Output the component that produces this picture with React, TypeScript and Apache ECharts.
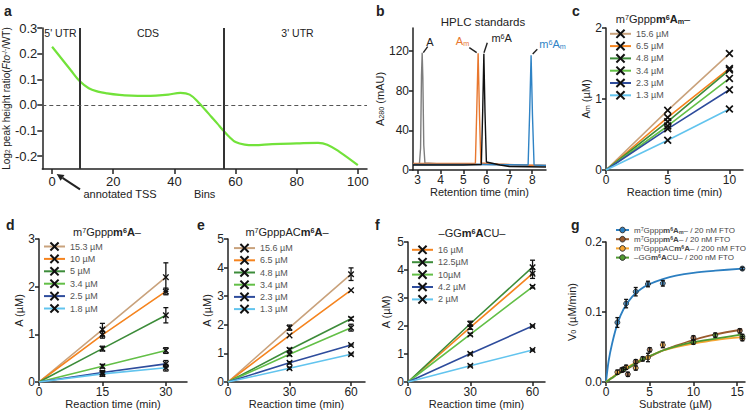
import React, { useEffect, useRef } from "react";
import * as echarts from "echarts";

const FONT = "'Liberation Sans', Arial, Helvetica, sans-serif";
const INK = "#222";
const X_SYMBOL = "path://M0,1.5L1.5,0L5,3.5L8.5,0L10,1.5L6.5,5L10,8.5L8.5,10L5,6.5L1.5,10L0,8.5L3.5,5Z";

// ---------- panel a ----------
const binsA = [0, 3, 6, 9, 12, 15, 18, 22, 26, 30, 34, 38, 42, 45, 48, 50, 52, 54, 56, 58, 60, 63, 66, 72, 80, 87, 90, 94, 100];
const ratioA = [0.227, 0.182, 0.137, 0.093, 0.065, 0.052, 0.045, 0.039, 0.036, 0.035, 0.036, 0.04, 0.047, 0.04, 0.008, -0.018, -0.045, -0.072, -0.1, -0.125, -0.145, -0.155, -0.157, -0.153, -0.15, -0.148, -0.155, -0.183, -0.235];
const regionEdgesA = [9.2, 56.2];
const regionLabelsA = ["5' UTR", "CDS", "3' UTR"];
const xTicksA = [0, 20, 40, 60, 80, 100];
const yTicksA = [-0.2, -0.1, 0, 0.1, 0.2, 0.3];

// ---------- panel b ----------
const hplcTimes = [
  [2.8, 3.08, 3.13, 3.17, 3.2, 3.23, 3.27, 3.32, 4.0, 5.0, 6.0, 7.0, 8.0, 8.6],
  [2.8, 5.0, 5.52, 5.58, 5.64, 5.7, 5.76, 6.5, 7.5, 8.6],
  [2.8, 6.0, 7.82, 7.89, 7.95, 8.01, 8.08, 8.6],
  [2.8, 5.0, 5.78, 5.84, 5.89, 5.94, 6.0, 6.6, 7.0, 8.6],
];
const hplcSignals = [
  [6, 6, 22, 95, 118, 92, 25, 7, 6, 6, 5.5, 5, 4.5, 4.5],
  [6.5, 6.5, 6.5, 60, 117.5, 55, 7, 6, 5, 4.5],
  [5.5, 5.5, 5, 60, 115.5, 55, 5, 4.5],
  [5, 5, 5.5, 60, 117, 58, 8, 5, 3.5, 3],
];
const hplcColors = ["#7d7d7d", "#E8772E", "#2F83C5", "#111111"];
const xTicksB = [3, 4, 5, 6, 7, 8];
const yTicksB = [0, 40, 80, 120];

// ---------- shared colours ----------
const TAN = "#C9A27C";
const ORANGE = "#F5841F";
const DKGREEN = "#3D8C3A";
const LTGREEN = "#63BF47";
const DKBLUE = "#2E4C9C";
const LTBLUE = "#62C4EE";

// ---------- panel c ----------
const timeC = [0, 5, 10];
const concC = ["15.6 µM", "6.5 µM", "4.8 µM", "3.4 µM", "2.3 µM", "1.3 µM"];
const amC = [
  [0, 0.84, 1.64],
  [0, 0.74, 1.43],
  [0, 0.68, 1.41],
  [0, 0.62, 1.29],
  [0, 0.58, 1.13],
  [0, 0.42, 0.86],
];
const colorsC = [TAN, ORANGE, DKGREEN, LTGREEN, DKBLUE, LTBLUE];

// ---------- panel d ----------
const timeD = [0, 15, 30];
const concD = ["15.3 µM", "10 µM", "5 µM", "3.4 µM", "2.5 µM", "1.8 µM"];
const aD = [
  [0, 1.1, 2.2],
  [0, 0.99, 1.9],
  [0, 0.7, 1.4],
  [0, 0.33, 0.66],
  [0, 0.2, 0.38],
  [0, 0.17, 0.3],
];
const errD = [
  [0, 0.13, 0.3],
  [0, 0.07, 0.07],
  [0, 0.05, 0.16],
  [0, 0.04, 0.06],
  [0, 0.04, 0.07],
  [0, 0.05, 0.07],
];
const colorsD = [TAN, ORANGE, DKGREEN, LTGREEN, DKBLUE, LTBLUE];

// ---------- panel e ----------
const timeE = [0, 30, 60];
const concE = ["15.6 µM", "6.5 µM", "4.8 µM", "3.4 µM", "2.3 µM", "1.3 µM"];
const aE = [
  [0, 1.9, 3.77],
  [0, 1.63, 3.21],
  [0, 1.13, 2.21],
  [0, 0.97, 1.9],
  [0, 0.67, 1.29],
  [0, 0.48, 0.97],
];
const errE = [
  [0, 0.09, 0.22],
  [0, 0, 0],
  [0, 0.05, 0.05],
  [0, 0.05, 0.12],
  [0, 0.04, 0.03],
  [0, 0.04, 0.03],
];
const colorsE = [TAN, ORANGE, DKGREEN, LTGREEN, DKBLUE, LTBLUE];

// ---------- panel f ----------
const timeF = [0, 30, 60];
const concF = ["16 µM", "12.5µM", "10µM", "4.2 µM", "2 µM"];
const aF = [
  [0, 1.95, 3.87],
  [0, 2.08, 4.1],
  [0, 1.7, 3.4],
  [0, 1.01, 2.0],
  [0, 0.58, 1.14],
];
const errF = [
  [0, 0.07, 0.17],
  [0, 0.09, 0.25],
  [0, 0.04, 0.04],
  [0, 0.03, 0.03],
  [0, 0.03, 0.03],
];
const colorsF = [ORANGE, DKGREEN, LTGREEN, DKBLUE, LTBLUE];

// ---------- panel g ----------
const namesG = [
  "m7Gpppm6Am– / 20 nM FTO",
  "m7Gpppm6A– / 20 nM FTO",
  "m7GpppACm6A– / 200 nM FTO",
  "–GGm6ACU– / 200 nM FTO",
];
const richNamesG = [
  "{n|m}{sup|7}{n|Gppp}{b|m}{bsup|6}{b|A}{bsub|m}{n|– / 20 nM FTO}",
  "{n|m}{sup|7}{n|Gppp}{b|m}{bsup|6}{b|A}{n|– / 20 nM FTO}",
  "{n|m}{sup|7}{n|GpppAC}{b|m}{bsup|6}{b|A}{n|– / 200 nM FTO}",
  "{n|–GG}{b|m}{bsup|6}{b|A}{n|CU– / 200 nM FTO}",
];
const colorsG = ["#2C7FC1", "#9A5A2E", "#F6A531", "#4F9A30"];
const substrateG = [
  [1.3, 2.3, 3.4, 4.8, 6.5, 15.6],
  [1.8, 2.5, 3.4, 5, 10, 15.3],
  [1.3, 2.3, 3.4, 4.8, 6.5, 15.6],
  [2, 4.2, 10, 12.5, 15.6],
];
const v0G = [
  [0.085, 0.112, 0.129, 0.14, 0.141, 0.162],
  [0.017, 0.011, 0.029, 0.046, 0.063, 0.073],
  [0.014, 0.021, 0.02, 0.035, 0.053, 0.062],
  [0.018, 0.033, 0.057, 0.067, 0.065],
];
const errG = [
  [0.007, 0.006, 0.006, 0.004, 0.004, 0.002],
  [0.003, 0.003, 0.003, 0.003, 0.003, 0.003],
  [0.003, 0.003, 0.003, 0.006, 0.004, 0.003],
  [0.003, 0.003, 0.003, 0.003, 0.003],
];
const fitX = [0, 0.3, 0.7, 1.3, 2, 3, 4, 5, 6.5, 8, 10, 12.5, 15.6];
const fitG = [
  [0, 0.03, 0.055, 0.083, 0.104, 0.122, 0.133, 0.14, 0.147, 0.152, 0.156, 0.159, 0.162],
  [0, 0.0025, 0.006, 0.011, 0.016, 0.023, 0.03, 0.036, 0.045, 0.052, 0.06, 0.068, 0.075],
  [0, 0.003, 0.0065, 0.012, 0.018, 0.025, 0.032, 0.037, 0.045, 0.05, 0.055, 0.06, 0.064],
  [0, 0.0025, 0.006, 0.011, 0.016, 0.024, 0.031, 0.037, 0.045, 0.051, 0.057, 0.062, 0.068],
];

// ---------- helpers ----------
function rich(size: number, color = INK) {
  const base = { fontSize: size, color, fill: color, fontFamily: FONT };
  const small = Math.round(size * 0.65 * 10) / 10;
  return {
    n: { ...base },
    b: { ...base, fontWeight: "bold" },
    i: { ...base, fontStyle: "italic" },
    sup: { ...base, fontSize: small, verticalAlign: "top" },
    bsup: { ...base, fontSize: small, fontWeight: "bold", verticalAlign: "top" },
    sub: { ...base, fontSize: small, verticalAlign: "bottom" },
    bsub: { ...base, fontSize: small, fontWeight: "bold", verticalAlign: "bottom" },
  };
}

const grids = [
  { left: 41, top: 28, width: 326, height: 141 },
  { left: 413, top: 28, width: 133, height: 142 },
  { left: 606, top: 28, width: 137, height: 142 },
  { left: 39, top: 239, width: 148, height: 143 },
  { left: 228, top: 239, width: 137, height: 143 },
  { left: 408, top: 242, width: 137, height: 140 },
  { left: 606, top: 242, width: 139, height: 140 },
];

function axis(gridIndex: number, min: number, max: number, ticks: number[], name: string, nameGap: number, extra: any = {}) {
  const { fmt, labelSize = 12, tickLen = 4, margin = 4, nameSize = 11, vertical = false } = extra;
  return {
    type: "value",
    gridIndex,
    min,
    max,
    name,
    nameLocation: "middle",
    nameGap,
    nameRotate: vertical ? 90 : 0,
    nameTextStyle: { fontSize: nameSize, color: INK, fontFamily: FONT, rich: rich(nameSize) },
    axisLine: { show: true, onZero: false, lineStyle: { color: INK, width: 1.5 } },
    axisTick: { show: true, inside: false, length: tickLen, customValues: ticks, lineStyle: { color: INK, width: 1.5 } },
    axisLabel: {
      show: true,
      fontSize: labelSize,
      color: INK,
      fontFamily: FONT,
      margin,
      customValues: ticks,
      formatter: fmt || ((v: number) => String(v)),
    },
    splitLine: { show: false },
  };
}

function errorBars(idx: number, data: number[][], hw: number) {
  return {
    type: "custom",
    name: "err-" + idx,
    coordinateSystem: "cartesian2d",
    xAxisIndex: idx,
    yAxisIndex: idx,
    data,
    silent: true,
    z: 6,
    renderItem: (params: any, api: any) => {
      const x = api.value(0);
      const y = api.value(1);
      const e = api.value(2);
      const top = api.coord([x, y + e]);
      const bot = api.coord([x, y - e]);
      const st = { stroke: "#111", lineWidth: 1.3 };
      return {
        type: "group",
        children: [
          { type: "line", shape: { x1: top[0], y1: top[1], x2: bot[0], y2: bot[1] }, style: st },
          { type: "line", shape: { x1: top[0] - hw, y1: top[1], x2: top[0] + hw, y2: top[1] }, style: st },
          { type: "line", shape: { x1: bot[0] - hw, y1: bot[1], x2: bot[0] + hw, y2: bot[1] }, style: st },
        ],
      };
    },
  };
}

function kineticSeries(idx: number, names: string[], times: number[], values: number[][], errs: number[][] | null, colors: string[], symSize: number) {
  const out: any[] = [];
  names.forEach((nm, i) => {
    out.push({
      type: "line",
      name: nm,
      xAxisIndex: idx,
      yAxisIndex: idx,
      data: times.map((t, j) => (j === 0 ? { value: [t, values[i][j]], symbol: "none" } : [t, values[i][j]])),
      symbol: X_SYMBOL,
      symbolSize: symSize,
      showSymbol: true,
      itemStyle: { color: "#111", borderWidth: 0 },
      lineStyle: { color: colors[i], width: 1.6 },
      emphasis: { disabled: true },
      silent: true,
      z: 3,
    });
  });
  if (errs) {
    const eb: number[][] = [];
    names.forEach((_, i) =>
      times.forEach((t, j) => {
        if (errs[i][j] > 0) eb.push([t, values[i][j], errs[i][j]]);
      })
    );
    if (eb.length) out.push(errorBars(idx, eb, 2.5));
  }
  return out;
}

function legendFor(names: string[], left: number, top: number, gap: number, extra: any = {}) {
  return {
    data: names,
    orient: "vertical",
    left,
    top,
    padding: 0,
    itemGap: gap,
    itemWidth: 21,
    itemHeight: 12,
    selectedMode: false,
    itemStyle: { borderWidth: 0 },
    textStyle: { fontSize: 9, color: "#555", fontFamily: FONT },
    ...extra,
  };
}

function txt(x: number, y: number, text: string, size: number, opts: any = {}) {
  return {
    type: "text",
    x,
    y,
    z: 10,
    style: {
      text,
      fontSize: size,
      fontFamily: FONT,
      fill: opts.color || INK,
      fontWeight: opts.bold ? "bold" : "normal",
      align: opts.align || "center",
      verticalAlign: opts.valign || "middle",
      rich: rich(size, opts.color || INK),
    },
  };
}

function seg(x1: number, y1: number, x2: number, y2: number, w = 1.4) {
  return { type: "line", z: 10, shape: { x1, y1, x2, y2 }, style: { stroke: INK, lineWidth: w } };
}

function buildOption() {
  const series: any[] = [];

  // a
  series.push({
    type: "line",
    name: "ratio",
    xAxisIndex: 0,
    yAxisIndex: 0,
    data: binsA.map((b, i) => [b, ratioA[i]]),
    smooth: 0.4,
    symbol: "none",
    lineStyle: { color: "#72E23A", width: 2.2 },
    silent: true,
    z: 3,
    markLine: {
      silent: true,
      symbol: ["none", "none"],
      label: { show: false },
      data: [
        ...regionEdgesA.map((v) => ({ xAxis: v, lineStyle: { color: "#333", width: 2, type: "solid" } })),
        { yAxis: 0, lineStyle: { color: "#555", width: 1.2, type: [4, 3] } },
      ],
    },
  });

  // b
  hplcTimes.forEach((ts, k) => {
    series.push({
      type: "line",
      name: "hplc-" + k,
      xAxisIndex: 1,
      yAxisIndex: 1,
      data: ts.map((t, i) => [t, hplcSignals[k][i]]),
      symbol: "none",
      lineStyle: { color: hplcColors[k], width: 1.4 },
      silent: true,
    });
  });

  series.push(...kineticSeries(2, concC, timeC, amC, null, colorsC, 8));
  series.push(...kineticSeries(3, concD, timeD, aD, errD, colorsD, 6.5));
  series.push(...kineticSeries(4, concE, timeE, aE, errE, colorsE, 6.5));
  series.push(...kineticSeries(5, concF, timeF, aF, errF, colorsF, 6.5));

  // g
  namesG.forEach((nm, k) => {
    series.push({
      type: "line",
      name: nm,
      xAxisIndex: 6,
      yAxisIndex: 6,
      data: fitX.map((x, i) => [x, fitG[k][i]]),
      smooth: 0.3,
      symbol: "circle",
      showSymbol: false,
      itemStyle: { color: colorsG[k], borderColor: "#333", borderWidth: 1 },
      lineStyle: { color: colorsG[k], width: 1.8 },
      silent: true,
      z: 3,
    });
  });
  namesG.forEach((_, k) => {
    series.push({
      type: "scatter",
      name: "g-pts-" + k,
      xAxisIndex: 6,
      yAxisIndex: 6,
      data: substrateG[k].map((x, i) => [x, v0G[k][i]]),
      symbol: "circle",
      symbolSize: 5,
      itemStyle: { color: colorsG[k], borderColor: "#222", borderWidth: 1 },
      silent: true,
      z: 5,
    });
  });
  const ebG: number[][] = [];
  namesG.forEach((_, k) => substrateG[k].forEach((x, i) => ebG.push([x, v0G[k][i], errG[k][i]])));
  series.push(errorBars(6, ebG, 2));

  const xAxes = [
    axis(0, -3.2, 103, xTicksA, "Bins", 19, { labelSize: 13, tickLen: 5, margin: 6 }),
    axis(1, 2.8, 8.6, xTicksB, "Retention time (min)", 16),
    axis(2, 0, 11.1, [0, 5, 10], "Reaction time (min)", 16),
    axis(3, 0, 35, [0, 15, 30], "Reaction time (min)", 14),
    axis(4, 0, 66.8, [0, 30, 60], "Reaction time (min)", 14),
    axis(5, 0, 66, [0, 30, 60], "Reaction time (min)", 14),
    axis(6, 0, 15.9, [0, 5, 10, 15], "Substrate (µM)", 14),
  ];
  const yAxes = [
    axis(0, -0.25, 0.3, yTicksA, "{n|Log}{sub|2}{n| peak height ratio(}{i|Fto}{sup|-/-}{n|/WT)}", 24, {
      labelSize: 13,
      tickLen: 5,
      margin: 5,
      nameSize: 10,
      vertical: true,
      fmt: (v: number) => v.toFixed(1),
    }),
    axis(1, 0, 143, yTicksB, "{n|A}{sub|280}{n| (mAU)}", 23, { vertical: true }),
    axis(2, 0, 2, [0, 1, 2], "{n|A}{sub|m}{n| (µM)}", 12, { vertical: true }),
    axis(3, 0, 3, [0, 1, 2, 3], "A (µM)", 11, { vertical: true }),
    axis(4, 0, 5, [0, 1, 2, 3, 4, 5], "A (µM)", 16, { vertical: true }),
    axis(5, 0, 5, [0, 1, 2, 3, 4, 5], "A (µM)", 17, { vertical: true }),
    axis(6, 0, 0.2, [0, 0.1, 0.2], "{n|V}{sub|0}{n| (µM/min)}", 29, { vertical: true, fmt: (v: number) => v.toFixed(1) }),
  ];

  const legends = [
    legendFor(concC, 609, 29, 2.7),
    legendFor(concD, 43, 241.7, 2.8),
    legendFor(concE, 233, 243.3, 2.6),
    legendFor(concF, 411, 245, 2.8),
    {
      data: namesG,
      orient: "vertical",
      left: 615,
      top: 226,
      padding: 0,
      itemGap: 1.2,
      itemWidth: 13,
      itemHeight: 7,
      selectedMode: false,
      itemStyle: { borderColor: "#333", borderWidth: 1 },
      formatter: (name: string) => richNamesG[namesG.indexOf(name)],
      textStyle: { fontSize: 8, color: "#444", fontFamily: FONT, rich: rich(8, "#444") },
    },
  ];

  // annotation graphics
  const graphic: any[] = [
    // panel letters
    txt(4, 4, "a", 14, { bold: true, align: "left", valign: "top" }),
    txt(376, 4, "b", 14, { bold: true, align: "left", valign: "top" }),
    txt(572, 4, "c", 14, { bold: true, align: "left", valign: "top" }),
    txt(6, 218, "d", 14, { bold: true, align: "left", valign: "top" }),
    txt(197, 218, "e", 14, { bold: true, align: "left", valign: "top" }),
    txt(375, 218, "f", 14, { bold: true, align: "left", valign: "top" }),
    txt(571, 218, "g", 14, { bold: true, align: "left", valign: "top" }),
    // panel a region labels
    txt(60.5, 33, regionLabelsA[0], 10.5),
    txt(148, 33, regionLabelsA[1], 10.5),
    txt(297.5, 33, regionLabelsA[2], 10.5),
    txt(120, 194, "annotated TSS", 11),
    seg(80, 189.3, 62.5, 177.8, 2),
    { type: "polygon", z: 10, shape: { points: [[56.7, 174], [64.5, 174.9], [60.6, 180.8]] }, style: { fill: INK } },
    // panel b
    txt(483, 22, "HPLC standards", 11.5),
    txt(430, 41.5, "A", 11),
    seg(427.7, 46.7, 423.3, 52.7),
    txt(462.5, 41, "{n|A}{sub|m}", 11, { color: "#E8772E" }),
    seg(469.3, 47.7, 476.7, 52.7),
    txt(501.7, 38, "{n|m}{sup|6}{n|A}", 11),
    seg(487.3, 42.7, 484, 52.7),
    txt(552.5, 44, "{n|m}{sup|6}{n|A}{sub|m}", 11, { color: "#2F83C5" }),
    seg(537.3, 49.3, 532.7, 54),
    // kinetic titles
    txt(653, 19, "{n|m}{sup|7}{n|Gppp}{b|m}{bsup|6}{b|A}{bsub|m}{n|–}", 11),
    txt(107, 232, "{n|m}{sup|7}{n|Gppp}{b|m}{bsup|6}{b|A}{n|–}", 11),
    txt(287, 232, "{n|m}{sup|7}{n|GpppAC}{b|m}{bsup|6}{b|A}{n|–}", 11),
    txt(472, 233, "{n|–GG}{b|m}{bsup|6}{b|A}{n|CU–}", 11),
  ];

  return {
    animation: false,
    backgroundColor: "#ffffff",
    textStyle: { fontFamily: FONT },
    grid: grids.map((g) => ({ ...g, containLabel: false })),
    xAxis: xAxes,
    yAxis: yAxes,
    legend: legends,
    series,
    graphic,
  };
}

export default function App() {
  const ref = useRef<HTMLDivElement>(null);
  useEffect(() => {
    if (!ref.current) return;
    const chart = echarts.init(ref.current, undefined, { renderer: "svg" });
    chart.setOption(buildOption() as any);
    return () => chart.dispose();
  }, []);
  return (
    <div
      ref={ref}
      style={{ position: "absolute", left: 0, top: 0, width: 750, height: 414, background: "#fff" }}
    />
  );
}
